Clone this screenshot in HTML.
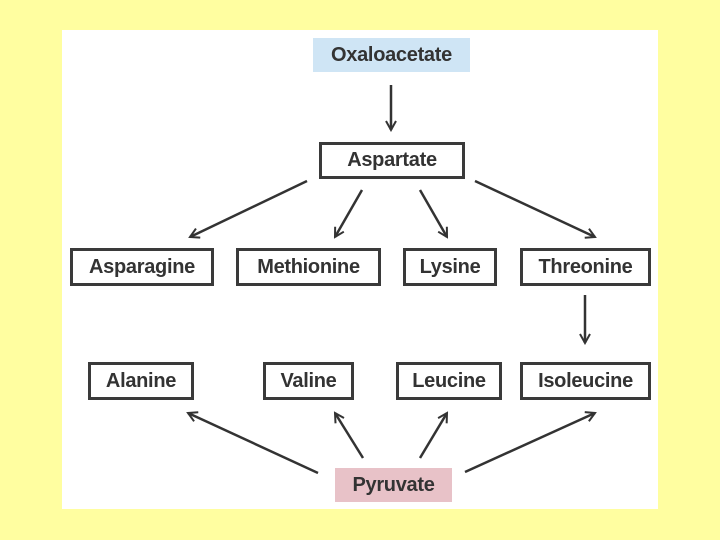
<!DOCTYPE html>
<html><head><style>
body{margin:0;width:720px;height:540px;background:#fffea0;position:relative;overflow:hidden;font-family:"Liberation Sans",sans-serif}
#p{position:absolute;left:62px;top:30px;width:596px;height:479px;background:#fff}
.b{position:absolute;box-sizing:border-box;border:3px solid #3a3a3a;display:flex;align-items:center;justify-content:center;font-weight:bold;font-size:20px;color:#333;letter-spacing:-0.3px}
.f{border:none}
svg{position:absolute;left:0;top:0}
</style></head><body>
<div id="p"></div>
<div class="b f" style="left:313px;top:38px;width:157px;height:34px;background:#cfe5f5">Oxaloacetate</div>
<div class="b" style="left:319px;top:142px;width:146px;height:37px">Aspartate</div>
<div class="b" style="left:70px;top:248px;width:144px;height:38px">Asparagine</div>
<div class="b" style="left:236px;top:248px;width:145px;height:38px">Methionine</div>
<div class="b" style="left:403px;top:248px;width:94px;height:38px">Lysine</div>
<div class="b" style="left:520px;top:248px;width:131px;height:38px">Threonine</div>
<div class="b" style="left:88px;top:362px;width:106px;height:38px">Alanine</div>
<div class="b" style="left:263px;top:362px;width:91px;height:38px">Valine</div>
<div class="b" style="left:396px;top:362px;width:106px;height:38px">Leucine</div>
<div class="b" style="left:520px;top:362px;width:131px;height:38px">Isoleucine</div>
<div class="b f" style="left:335px;top:468px;width:117px;height:34px;background:#e8c2c8">Pyruvate</div>
<svg width="720" height="540">
<defs><marker id="a" markerWidth="12" markerHeight="12" refX="10" refY="6" orient="auto" markerUnits="userSpaceOnUse"><path d="M1,1 L10,6 L1,11" fill="none" stroke="#333" stroke-width="2"/></marker></defs>
<g stroke="#333" stroke-width="2.5" fill="none" marker-end="url(#a)">
<line x1="391" y1="85" x2="391" y2="130"/>
<line x1="307" y1="181" x2="190" y2="237"/>
<line x1="362" y1="190" x2="335" y2="237"/>
<line x1="420" y1="190" x2="447" y2="237"/>
<line x1="475" y1="181" x2="595" y2="237"/>
<line x1="585" y1="295" x2="585" y2="343"/>
<line x1="318" y1="473" x2="188" y2="413"/>
<line x1="363" y1="458" x2="335" y2="413"/>
<line x1="420" y1="458" x2="447" y2="413"/>
<line x1="465" y1="472" x2="595" y2="413"/>
</g></svg>
</body></html>
